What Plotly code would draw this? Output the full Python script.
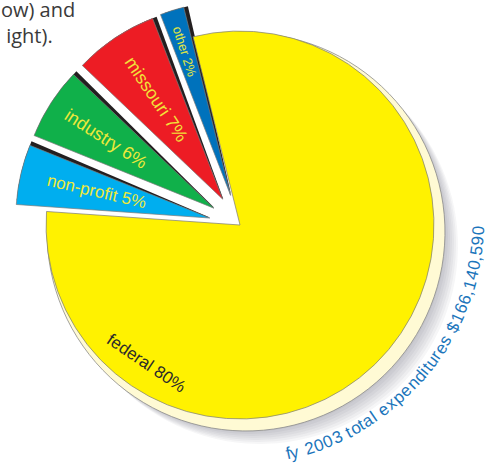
import math
import plotly.graph_objects as go

W, H = 487, 464

# --- data -------------------------------------------------------------
sources = ["federal", "non-profit", "industry", "missouri", "other"]
shares = [80, 5, 6, 7, 2]
slice_colors = ["#FFF200", "#00AEEF", "#10B04A", "#ED1C24", "#0072BC"]
total_caption = "fy 2003 total expenditures $166,140,590"
intro_lines = ["ow) and", "\u00a0ight)."]

# --- geometry (pixels) --------------------------------------------------
CX, CY = 240, 225          # pie centre
HALF = 225                 # half size of the main pie's domain box
PULL = 0.16                # explode distance of the small slices (fraction of r)
START = -14                # angle where the federal slice begins
pulls = [0] + [PULL] * (len(shares) - 1)
R = HALF / (1 + PULL)      # resulting pie radius

CLEAR = "rgba(0,0,0,0)"


def domain(cx, cy, half):
    return dict(x=[(cx - half) / W, (cx + half) / W],
                y=[1 - (cy + half) / H, 1 - (cy - half) / H])


def to_paper(x, y):
    return x / W, 1 - y / H


def pie(colors, dom, pull=None, rotation=START, line_w=0, line_c="#808080"):
    return go.Pie(
        labels=sources, values=shares, sort=False, direction="clockwise",
        rotation=rotation, pull=pull if pull is not None else 0,
        domain=dom, textinfo="none", hoverinfo="skip", showlegend=False,
        marker=dict(colors=colors, line=dict(color=line_c, width=line_w)),
    )


fig = go.Figure()

# soft grey drop shadow under the federal slice
for k in range(7):
    fig.add_trace(pie(["rgba(40,40,60,0.045)"] + [CLEAR] * 4,
                      domain(CX + 8 + 2 * k, CY + 9 + 2 * k, R + 4)))

# cream rim behind the federal slice
fig.add_trace(pie(["#FFFAD4"] + [CLEAR] * 4, domain(CX + 6, CY + 7, R + 5),
                  line_w=[0.8, 0, 0, 0, 0], line_c="#8a8a8a"))

# dark edge shadow on the exploded slices
fig.add_trace(pie([CLEAR] + ["#231F20"] * 4, domain(CX, CY, HALF),
                  pull=pulls, rotation=START + 1.1))

# the pie itself
fig.add_trace(pie(slice_colors, domain(CX, CY, HALF), pull=pulls,
                  line_w=0.7, line_c="#7a7a7a"))

# --- slice labels ---------------------------------------------------------
label_radius = [0.86, 0.6, 0.66, 0.62, 0.78]
label_size = [17, 17, 18, 18, 13]
label_color = ["#2b2b2b", "#EDE93A", "#EDE93A", "#F2E23A", "#E2E83F"]
FED_LABEL_ANGLE = 214

annotations = []
a0 = START
for i, (name, share) in enumerate(zip(sources, shares)):
    span = share / 100 * 360
    mid = a0 + span / 2
    a0 += span
    if i == 0:
        th = math.radians(FED_LABEL_ANGLE)
        ox, oy = CX, CY
        tang = FED_LABEL_ANGLE - 180
    else:
        th = math.radians(mid)
        ox = CX + pulls[i] * R * math.sin(th)
        oy = CY - pulls[i] * R * math.cos(th)
        tang = math.degrees(math.atan2(math.cos(th), -math.sin(th)))
    lx = ox + label_radius[i] * R * math.sin(th)
    ly = oy - label_radius[i] * R * math.cos(th)
    x, y = to_paper(lx, ly)
    annotations.append(dict(
        x=x, y=y, xref="paper", yref="paper", showarrow=False,
        text=f"{name} {share}%", textangle=tang,
        xanchor="center", yanchor="middle",
        font=dict(family="Liberation Sans, Arial, sans-serif",
                  size=label_size[i], color=label_color[i]),
    ))

# --- caption set along an arc around the pie ----------------------------
ADV = {"f": 278, "y": 500, " ": 278, "t": 278, "o": 556, "a": 556, "l": 222,
       "e": 556, "x": 500, "p": 556, "n": 556, "d": 556, "i": 222, "u": 556,
       "r": 333, "s": 500, "$": 556, ",": 278}
ARC_CX, ARC_CY, ARC_R = 238, 218, 241
PHI0, PHI1 = 78.0, 3.0

centres = []
acc = 0
for ch in total_caption:
    w = ADV.get(ch, 556)
    centres.append(acc + w / 2)
    acc += w
c0, c1 = centres[0], centres[-1]
for ch, c in zip(total_caption, centres):
    if ch == " ":
        continue
    phi = PHI0 + (PHI1 - PHI0) * (c - c0) / (c1 - c0)
    pr = math.radians(phi)
    x, y = to_paper(ARC_CX + ARC_R * math.cos(pr), ARC_CY + ARC_R * math.sin(pr))
    annotations.append(dict(
        x=x, y=y, xref="paper", yref="paper", showarrow=False, text=ch,
        textangle=phi - 90, xanchor="center", yanchor="middle",
        font=dict(family="Liberation Sans, Arial, sans-serif", size=17,
                  color="#1B75BB"),
    ))

# --- running text at the top left ---------------------------------------
x, y = to_paper(-1, -6)
annotations.append(dict(
    x=x, y=y, xref="paper", yref="paper", showarrow=False,
    text="<br>".join(intro_lines), align="left",
    xanchor="left", yanchor="top",
    font=dict(family="Open Sans, sans-serif", size=20, color="#3a3a3a"),
))

fig.update_layout(
    width=W, height=H, margin=dict(l=0, r=0, t=0, b=0),
    paper_bgcolor="white", plot_bgcolor="white",
    annotations=annotations, showlegend=False,
)

fig.write_html("out.html")
